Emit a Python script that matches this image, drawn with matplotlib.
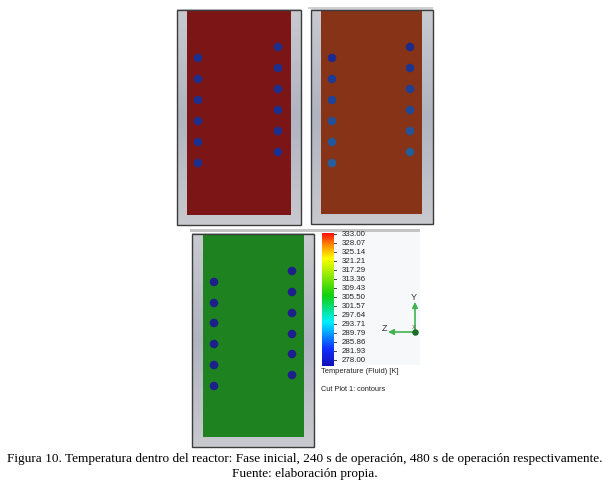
import numpy as np
import matplotlib
matplotlib.use("Agg")
import matplotlib.pyplot as plt
from matplotlib.colors import LinearSegmentedColormap
from matplotlib.patches import Rectangle

tick_labels = ["333.00","328.07","325.14","321.21","317.29","313.36","309.43",
               "305.50","301.57","297.64","293.71","289.79","285.86","281.93","278.00"]
temp_min, temp_max = 278.0, 333.0
caption = ["Figura 10. Temperatura dentro del reactor: Fase inicial, 240 s de operación, 480 s de operación respectivamente.",
           "Fuente: elaboración propia."]
colorbar_title = "Temperature (Fluid) [K]"
plot_title = "Cut Plot 1: contours"

# panel: frame(x0,y0,x1,y1), fluid(x0,y0,x1,y1), fluid colour, dots
p1_left_y = [58, 79, 100, 121, 142, 163]
p1_right_y = [47, 68, 89, 110, 131, 152]
p2_left_y = [58, 79, 100, 121, 142, 163]
p2_right_y = [47, 68, 89, 110, 131, 152]
p3_left_y = [282, 303, 323, 344, 365, 386]
p3_right_y = [271, 292, 313, 334, 354, 375]

panels = [
    dict(frame=(177, 10, 301, 225), fluid=(187, 11, 291, 215), color="#7c1616",
         xl=198, xr=278, yl=p1_left_y, yr=p1_right_y, dot=["#1c2f8e"] * 6, dotr=["#1c2f8e"] * 6),
    dict(frame=(311, 10, 433, 224), fluid=(321, 11, 422, 214), color="#863318",
         xl=332, xr=410, yl=p2_left_y, yr=p2_right_y,
         dot=["#1c2a90", "#1d3a94", "#1f4496", "#224f98", "#24589a", "#265f9c"],
         dotr=["#1c2a88", "#1d3590", "#1f4094", "#214a96", "#235498", "#255c9a"]),
    dict(frame=(192, 234, 314, 447), fluid=(203, 235, 304, 437), color="#1f8220",
         xl=214, xr=292, yl=p3_left_y, yr=p3_right_y, dot=["#1d1f8c"] * 6, dotr=["#1d1f8c"] * 6),
]

plt.rcParams["font.family"] = ["Liberation Serif", "DejaVu Sans"]
fig = plt.figure(figsize=(6.15, 4.86), dpi=100)
ax = fig.add_axes([0, 0, 1, 1])
ax.set_xlim(0, 615)
ax.set_ylim(486, 0)
ax.axis("off")

wall = LinearSegmentedColormap.from_list("wall", ["#c8cad0", "#b0b4c0", "#c8c9ce"])
grad = np.linspace(0, 1, 64).reshape(-1, 1)

# background of the colour-scale screenshot
ax.add_patch(Rectangle((190, 229), 230, 3, color="#c4c4c4", lw=0, zorder=1))
ax.add_patch(Rectangle((334, 232), 86, 133, color="#f7f8fa", lw=0, zorder=1))
ax.add_patch(Rectangle((308, 7), 125, 2, color="#d0d0d0", lw=0, zorder=1))

for p in panels:
    x0, y0, x1, y1 = p["frame"]
    ax.imshow(grad, extent=(x0, x1, y1, y0), cmap=wall, aspect="auto", zorder=2)
    ax.add_patch(Rectangle((x0, y0), x1 - x0, y1 - y0, fill=False, ec="#3c3c3c", lw=1.0, zorder=5))
    fx0, fy0, fx1, fy1 = p["fluid"]
    ax.add_patch(Rectangle((fx0, fy0), fx1 - fx0, fy1 - fy0, color=p["color"], lw=0, zorder=3))
    ax.scatter([p["xl"]] * len(p["yl"]), p["yl"], s=38, c=p["dot"], linewidths=0, zorder=4)
    ax.scatter([p["xr"]] * len(p["yr"]), p["yr"], s=38, c=p["dotr"], linewidths=0, zorder=4)

# colour bar
cmap = LinearSegmentedColormap.from_list(
    "flow", [(0.0, "#1010b8"), (0.13, "#1030ff"), (0.33, "#00f0ff"), (0.53, "#10d010"),
             (0.81, "#ffff00"), (0.92, "#ff8000"), (1.0, "#ff1010")])
vals = np.linspace(temp_max, temp_min, 256).reshape(-1, 1)
ax.imshow(vals, extent=(322, 334, 366, 233), cmap=cmap, vmin=temp_min, vmax=temp_max, aspect="auto", zorder=3)
ys = np.linspace(234, 360, len(tick_labels))
for y, lab in zip(ys, tick_labels):
    ax.plot([334, 336], [y, y], color="#444444", lw=0.7, zorder=3)
    ax.text(342, y, lab, fontsize=5.7, family="Liberation Sans", color="#222222", va="center", ha="left", zorder=4)
ax.text(321, 371, colorbar_title, fontsize=5.45, family="Liberation Sans", color="#222222", va="center", zorder=4)
ax.text(321, 389, plot_title, fontsize=5.3, family="Liberation Sans", color="#222222", va="center", zorder=4)

# orientation triad
ax.annotate("", xy=(415, 302), xytext=(415, 332), zorder=4,
            arrowprops=dict(arrowstyle="-|>", color="#3fb34f", lw=1.2, shrinkA=0, shrinkB=0, mutation_scale=8))
ax.annotate("", xy=(388, 332), xytext=(415, 332), zorder=4,
            arrowprops=dict(arrowstyle="-|>", color="#3fb34f", lw=1.2, shrinkA=0, shrinkB=0, mutation_scale=8))
ax.scatter([415], [332], s=22, c="#1c6b2a", zorder=5, linewidths=0)
ax.text(414, 297, "Y", fontsize=6.5, family="Liberation Sans", color="#333333", ha="center", va="center", zorder=4)
ax.text(384, 328, "Z", fontsize=6.5, family="Liberation Sans", color="#333333", ha="center", va="center", zorder=4)
ax.text(414, 327, "X", fontsize=4.5, family="Liberation Sans", color="#555555", ha="center", va="center", zorder=4)

ax.text(305, 459, caption[0], fontsize=9.58, ha="center", va="center", color="black", zorder=6)
ax.text(305, 474, caption[1], fontsize=9.58, ha="center", va="center", color="black", zorder=6)
ax.set_xlim(0, 615)
ax.set_ylim(486, 0)
fig.savefig("out.png", dpi=100, facecolor="white")
